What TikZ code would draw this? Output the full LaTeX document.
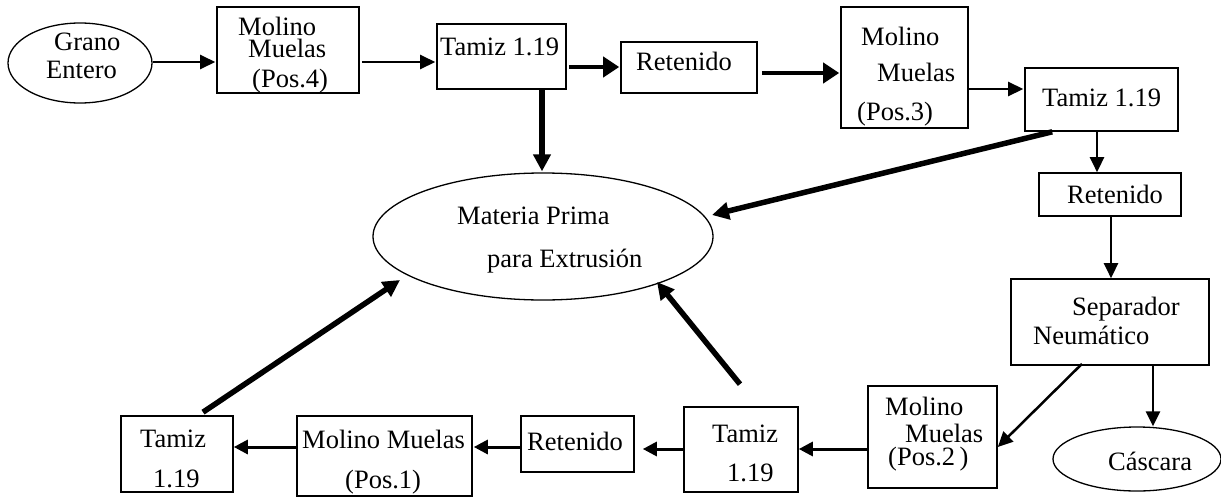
\documentclass[tikz,border=0pt]{standalone}
\usepackage{fontspec}
\setmainfont{Liberation Serif}
\usetikzlibrary{arrows.meta,calc,shapes.geometric}
\begin{document}
\begin{tikzpicture}[x=1pt,y=-1pt,
  box/.style 2 args={draw,rectangle,line width=1.6pt,inner sep=0,minimum width=#1pt,minimum height=#2pt},
  oval/.style 2 args={draw,ellipse,line width=1.3pt,inner sep=0,minimum width=#1pt,minimum height=#2pt},
  txt/.style={anchor=base west,inner sep=0,font=\fontsize{26.5}{30}\selectfont},
  thinarrow/.style={line width=2.5pt,-{Triangle[length=15pt,width=14pt]}},
  botarrow/.style={line width=3pt,-{Triangle[length=14pt,width=14pt]}},
  medarrow/.style={line width=4pt,-{Triangle[length=16pt,width=20pt]}},
  thickarrow/.style={line width=5.5pt,-{Triangle[length=17pt,width=17pt]}}]
\fill[white] (0,0) rectangle (1221,498);
\useasboundingbox (0,0) rectangle (1221,498);
% nodes
\node[oval={144}{80}] (grano) at (80,63) {};
\node[box={142}{86}] (m4) at (288,50) {};
\node[box={129}{65}] (t1) at (501.5,56.5) {};
\node[box={136}{51}] (r1) at (689,67.5) {};
\node[box={127}{121}] (m3) at (904.5,67.5) {};
\node[box={153}{63}] (t2) at (1101.5,99.5) {};
\node[box={142}{43}] (r2) at (1110,194.5) {};
\node[box={198}{86}] (sep) at (1110,322) {};
\node[oval={168}{64}] (casc) at (1137,459) {};
\node[box={129}{102}] (m2) at (932.5,437) {};
\node[box={114}{85}] (t3) at (741,449.5) {};
\node[box={113}{56}] (r3) at (577.5,444) {};
\node[box={175}{80}] (m1) at (384.5,456) {};
\node[box={112}{76}] (t4) at (177,454) {};
\node[oval={340}{127}] (mp) at (543,236.5) {};
% texts
\node[txt] (tg1) at (54,50) {Grano};
\node[txt] (tg2) at (46,78) {Entero};
\node[txt] (tm41) at (238,35) {Molino};
\node[txt] (tm42) at (248,57) {Muelas};
\node[txt] (tm43) at (252,87) {(Pos.4)};
\node[txt] (tt1) at (440,55) {Tamiz 1.19};
\node[txt] (tr1) at (636,70) {Retenido};
\node[txt] (tm31) at (861,45) {Molino};
\node[txt] (tm32) at (877,81) {Muelas};
\node[txt] (tm33) at (857,120) {(Pos.3)};
\node[txt] (tt2) at (1042,106) {Tamiz 1.19};
\node[txt] (tr2) at (1067,203) {Retenido};
\node[txt] (ts1) at (1072,315) {Separador};
\node[txt] (ts2) at (1033,344) {Neumático};
\node[txt] (tc) at (1108,470) {Cáscara};
\node[txt] (tm21) at (885,415) {Molino};
\node[txt] (tm22) at (905,442) {Muelas};
\node[txt] (tm23) at (888,465) {(Pos.2\,)};
\node[txt] (tt31) at (712,442) {Tamiz};
\node[txt] (tt32) at (727,481) {1.19};
\node[txt] (tr3) at (527,450) {Retenido};
\node[txt] (tm11) at (302,448) {Molino Muelas};
\node[txt] (tm12) at (345,488) {(Pos.1)};
\node[txt] (tt41) at (140,447) {Tamiz};
\node[txt] (tt42) at (153,487) {1.19};
\node[txt] (tp1) at (457,224) {Materia Prima};
\node[txt] (tp2) at (487,267) {para Extrusión};
% connectors
\draw[thinarrow] ($(grano.east)+(0,-1)$) -- ($(m4.west)+(-1,12)$);
\draw[thinarrow] ($(m4.east)+(2,12)$) -- ($(t1.west)+(-1,5.5)$);
\draw[medarrow] ($(t1.east)+(2,10.5)$) -- ($(r1.west)+(-1,-0.5)$);
\draw[medarrow] ($(r1.east)+(4,5.5)$) -- ($(m3.west)+(-1,5.5)$);
\draw[thinarrow] ($(m3.east)+(0,21.5)$) -- ($(t2.west)+(-1,-10.5)$);
\draw[thickarrow] ($(t1.south)+(40.5,0)$) -- ($(mp.north)+(-1,-1)$);
\draw[thickarrow] ($(t2.south west)+(28,0)$) -- ($(mp.center)+(169,-21.5)$);
\draw[thinarrow] ($(t2.south)+(-4.5,0)$) -- ($(r2.north)+(-13,0)$);
\draw[thinarrow] ($(r2.south)+(1,0)$) -- ($(sep.north)+(1,0)$);
\draw[thinarrow] ($(sep.south)+(43,0)$) -- ($(casc.north)+(16,0)$);
\draw[thinarrow] ($(sep.south)+(-28,-2)$) -- ($(m2.east)+(0,10)$);
\draw[botarrow] ($(m2.west)+(0,12)$) -- ($(t3.east)+(0,-0.5)$);
\draw[thickarrow] ($(t3.north)+(-1,-22)$) -- ($(mp.center)+(114,45.5)$);
\draw[botarrow] ($(t3.west)+(0,-0.5)$) -- ($(r3.east)+(8,5)$);
\draw[botarrow] ($(r3.west)+(0,3)$) -- ($(m1.east)+(1,-9)$);
\draw[botarrow] ($(m1.west)+(0,-9)$) -- ($(t4.east)+(0,-7)$);
\draw[thickarrow] ($(t4.north)+(26,-3)$) -- ($(mp.center)+(-143,43.5)$);
\end{tikzpicture}
\end{document}
